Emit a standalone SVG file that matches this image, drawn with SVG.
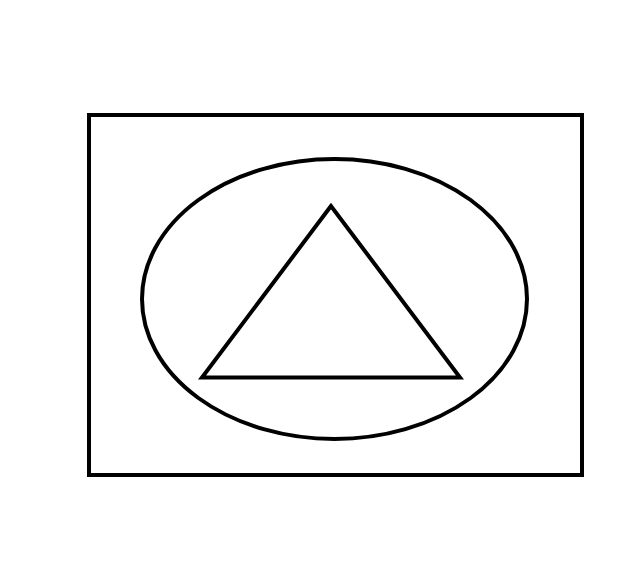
<svg xmlns="http://www.w3.org/2000/svg" width="642" height="565" viewBox="0 0 642 565">
<style>.s{fill:none;stroke:#000;stroke-width:4}</style>
<rect width="642" height="565" fill="#fff"/>
<g id="rect"><rect class="s" x="89" y="115" width="493" height="360"/></g>
<g id="ellipse"><ellipse class="s" cx="334.5" cy="299" rx="192.5" ry="140"/></g>
<g id="triangle"><polygon class="s" points="331,206 202,377.5 460,377.5"/></g>
<g id="connectors"/>
</svg>
